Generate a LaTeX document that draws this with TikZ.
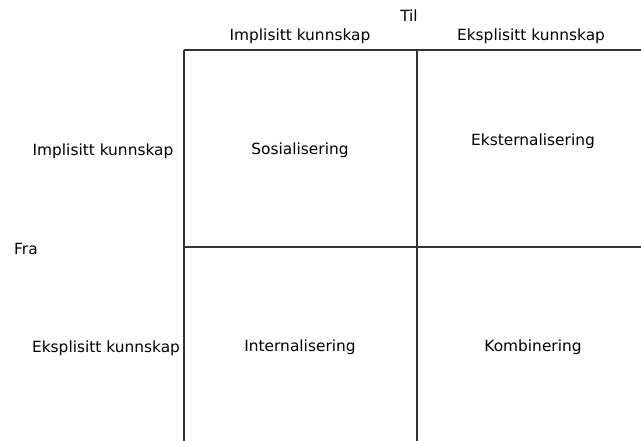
\documentclass[tikz,border=0pt]{standalone}
\usepackage{fontspec}
\setmainfont{DejaVu Sans}
\begin{document}
\begin{tikzpicture}[x=1pt,y=-1pt,
  gridline/.style={draw=black!80,line width=1.1pt},
  lbl/.style={font=\fontsize{15.4}{18}\selectfont,inner sep=0pt,text=black,yshift=-1.5pt}]
\useasboundingbox (0,0) rectangle (641,441);
% grid corners
\coordinate (tl) at (184,50);
\coordinate (tm) at (417,50);
\coordinate (tr) at (641,50);
\coordinate (ml) at (184,247);
\coordinate (mr) at (641,247);
\coordinate (bl) at (184,441);
\coordinate (bm) at (417,441);
% grid lines
\draw[gridline] (tl) -- (tr);
\draw[gridline] (ml) -- (mr);
\draw[gridline] (tl) -- (bl);
\draw[gridline] (tm) -- (bm);
% headers
\node[lbl] (til) at (409,14) {Til};
\node[lbl] (colA) at (300,35) {Implisitt kunnskap};
\node[lbl] (colB) at (531,35) {Eksplisitt kunnskap};
\node[lbl] (fra) at (26,247) {Fra};
\node[lbl] (rowA) at (103,150) {Implisitt kunnskap};
\node[lbl] (rowB) at (106,347) {Eksplisitt kunnskap};
% cells
\node[lbl] (sos) at (300,149) {Sosialisering};
\node[lbl] (eks) at (533,140) {Eksternalisering};
\node[lbl] (int) at (300,346) {Internalisering};
\node[lbl] (kom) at (533,346) {Kombinering};
\end{tikzpicture}
\end{document}
